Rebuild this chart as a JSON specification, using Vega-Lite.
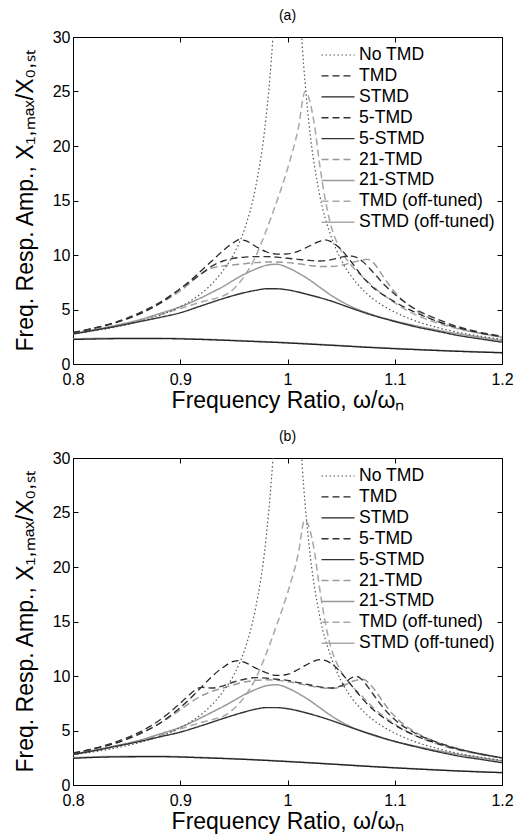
{
  "$schema": "https://vega.github.io/schema/vega-lite/v6.json",
  "padding": {"left": 13, "top": 8, "right": 2, "bottom": 2},
  "spacing": 16,
  "config": {
    "font": "Liberation Sans",
    "view": {"stroke": "#000", "strokeWidth": 1},
    "axis": {"grid": false, "domain": false, "labelFont": "Liberation Sans", "labelFontSize": 16, "labelColor": "#000", "titleFont": "Liberation Sans", "titleFontSize": 23, "titleFontWeight": "normal", "titleColor": "#000", "tickColor": "#000", "tickSize": -5, "labelFlush": false},
    "axisX": {"labelPadding": 12, "titlePadding": 2},
    "axisY": {"labelPadding": 8, "titlePadding": 15},
    "legend": {"orient": "top-right", "offset": 7, "padding": 0, "symbolType": "M-1.65,0H1.65", "symbolSize": 400, "labelFont": "Liberation Sans", "labelFontSize": 17.6, "labelColor": "#000", "rowPadding": 0.9, "labelOffset": 10},
    "title": {"font": "Liberation Sans", "fontSize": 14, "fontWeight": "normal", "color": "#000", "offset": 6}
  },
  "resolve": {"scale": {"color": "independent", "strokeDash": "independent", "strokeWidth": "independent"}},
  "datasets": {
    "a": [
      {"s":"STMD (off-tuned)","x":0.8,"y":2.3},{"s":"STMD (off-tuned)","x":0.84,"y":2.37},{"s":"STMD (off-tuned)","x":0.88,"y":2.37},{"s":"STMD (off-tuned)","x":0.92,"y":2.28},{"s":"STMD (off-tuned)","x":0.96,"y":2.13},{"s":"STMD (off-tuned)","x":1.0,"y":1.96},{"s":"STMD (off-tuned)","x":1.04,"y":1.75},{"s":"STMD (off-tuned)","x":1.08,"y":1.53},{"s":"STMD (off-tuned)","x":1.12,"y":1.34},{"s":"STMD (off-tuned)","x":1.16,"y":1.18},{"s":"STMD (off-tuned)","x":1.2,"y":1.05},
      {"s":"TMD (off-tuned)","x":0.8,"y":2.75},{"s":"TMD (off-tuned)","x":0.82,"y":3.1},{"s":"TMD (off-tuned)","x":0.84,"y":3.5},{"s":"TMD (off-tuned)","x":0.86,"y":3.95},{"s":"TMD (off-tuned)","x":0.88,"y":4.5},{"s":"TMD (off-tuned)","x":0.9,"y":5.1},{"s":"TMD (off-tuned)","x":0.91,"y":5.4},{"s":"TMD (off-tuned)","x":0.92,"y":5.7},{"s":"TMD (off-tuned)","x":0.93,"y":5.95},{"s":"TMD (off-tuned)","x":0.94,"y":6.25},{"s":"TMD (off-tuned)","x":0.95,"y":6.9},{"s":"TMD (off-tuned)","x":0.96,"y":8.1},{"s":"TMD (off-tuned)","x":0.97,"y":9.8},{"s":"TMD (off-tuned)","x":0.98,"y":12.2},{"s":"TMD (off-tuned)","x":0.99,"y":14.9},{"s":"TMD (off-tuned)","x":1.0,"y":17.9},{"s":"TMD (off-tuned)","x":1.01,"y":21.6},{"s":"TMD (off-tuned)","x":1.0165,"y":25.0},{"s":"TMD (off-tuned)","x":1.025,"y":22.0},{"s":"TMD (off-tuned)","x":1.03,"y":18.3},{"s":"TMD (off-tuned)","x":1.035,"y":15.2},{"s":"TMD (off-tuned)","x":1.04,"y":12.9},{"s":"TMD (off-tuned)","x":1.05,"y":10.4},{"s":"TMD (off-tuned)","x":1.06,"y":9.0},{"s":"TMD (off-tuned)","x":1.07,"y":8.0},{"s":"TMD (off-tuned)","x":1.08,"y":7.1},{"s":"TMD (off-tuned)","x":1.09,"y":6.3},{"s":"TMD (off-tuned)","x":1.1,"y":5.6},{"s":"TMD (off-tuned)","x":1.12,"y":4.5},{"s":"TMD (off-tuned)","x":1.14,"y":3.75},{"s":"TMD (off-tuned)","x":1.16,"y":3.2},{"s":"TMD (off-tuned)","x":1.18,"y":2.8},{"s":"TMD (off-tuned)","x":1.2,"y":2.45},
      {"s":"21-STMD","x":0.8,"y":2.8},{"s":"21-STMD","x":0.82,"y":3.15},{"s":"21-STMD","x":0.84,"y":3.55},{"s":"21-STMD","x":0.86,"y":4.0},{"s":"21-STMD","x":0.88,"y":4.6},{"s":"21-STMD","x":0.9,"y":5.25},{"s":"21-STMD","x":0.92,"y":6.1},{"s":"21-STMD","x":0.93,"y":6.6},{"s":"21-STMD","x":0.94,"y":7.1},{"s":"21-STMD","x":0.95,"y":7.7},{"s":"21-STMD","x":0.96,"y":8.25},{"s":"21-STMD","x":0.97,"y":8.7},{"s":"21-STMD","x":0.98,"y":9.05},{"s":"21-STMD","x":0.99,"y":9.15},{"s":"21-STMD","x":1.0,"y":8.85},{"s":"21-STMD","x":1.01,"y":8.35},{"s":"21-STMD","x":1.02,"y":7.75},{"s":"21-STMD","x":1.03,"y":7.05},{"s":"21-STMD","x":1.04,"y":6.35},{"s":"21-STMD","x":1.05,"y":5.75},{"s":"21-STMD","x":1.06,"y":5.25},{"s":"21-STMD","x":1.08,"y":4.5},{"s":"21-STMD","x":1.1,"y":3.95},{"s":"21-STMD","x":1.12,"y":3.5},{"s":"21-STMD","x":1.14,"y":3.1},{"s":"21-STMD","x":1.16,"y":2.75},{"s":"21-STMD","x":1.18,"y":2.45},{"s":"21-STMD","x":1.2,"y":2.15},
      {"s":"21-TMD","x":0.8,"y":2.8},{"s":"21-TMD","x":0.82,"y":3.25},{"s":"21-TMD","x":0.84,"y":3.8},{"s":"21-TMD","x":0.86,"y":4.5},{"s":"21-TMD","x":0.88,"y":5.5},{"s":"21-TMD","x":0.9,"y":6.7},{"s":"21-TMD","x":0.91,"y":7.5},{"s":"21-TMD","x":0.92,"y":8.3},{"s":"21-TMD","x":0.93,"y":8.8},{"s":"21-TMD","x":0.94,"y":9.0},{"s":"21-TMD","x":0.95,"y":9.1},{"s":"21-TMD","x":0.96,"y":9.2},{"s":"21-TMD","x":0.97,"y":9.3},{"s":"21-TMD","x":0.98,"y":9.35},{"s":"21-TMD","x":0.99,"y":9.35},{"s":"21-TMD","x":1.0,"y":9.3},{"s":"21-TMD","x":1.01,"y":9.2},{"s":"21-TMD","x":1.02,"y":9.05},{"s":"21-TMD","x":1.03,"y":8.95},{"s":"21-TMD","x":1.04,"y":8.95},{"s":"21-TMD","x":1.05,"y":9.05},{"s":"21-TMD","x":1.06,"y":9.3},{"s":"21-TMD","x":1.07,"y":9.55},{"s":"21-TMD","x":1.075,"y":9.6},{"s":"21-TMD","x":1.08,"y":9.3},{"s":"21-TMD","x":1.09,"y":7.9},{"s":"21-TMD","x":1.1,"y":6.6},{"s":"21-TMD","x":1.12,"y":4.9},{"s":"21-TMD","x":1.14,"y":3.9},{"s":"21-TMD","x":1.16,"y":3.25},{"s":"21-TMD","x":1.18,"y":2.8},{"s":"21-TMD","x":1.2,"y":2.45},
      {"s":"No TMD","x":0.8,"y":2.78},{"s":"No TMD","x":0.82,"y":3.05},{"s":"No TMD","x":0.84,"y":3.4},{"s":"No TMD","x":0.86,"y":3.84},{"s":"No TMD","x":0.88,"y":4.43},{"s":"No TMD","x":0.9,"y":5.26},{"s":"No TMD","x":0.91,"y":5.81},{"s":"No TMD","x":0.92,"y":6.51},{"s":"No TMD","x":0.93,"y":7.4},{"s":"No TMD","x":0.94,"y":8.59},{"s":"No TMD","x":0.95,"y":10.1},{"s":"No TMD","x":0.96,"y":12.4},{"s":"No TMD","x":0.97,"y":16.1},{"s":"No TMD","x":0.98,"y":22.6},{"s":"No TMD","x":0.985,"y":28.0},{"s":"No TMD","x":0.99,"y":35.6},{"s":"No TMD","x":1.0,"y":50},{"s":"No TMD","x":1.01,"y":35.1},{"s":"No TMD","x":1.015,"y":27.5},{"s":"No TMD","x":1.02,"y":22.1},{"s":"No TMD","x":1.03,"y":15.5},{"s":"No TMD","x":1.04,"y":11.9},{"s":"No TMD","x":1.05,"y":9.56},{"s":"No TMD","x":1.06,"y":7.98},{"s":"No TMD","x":1.07,"y":6.83},{"s":"No TMD","x":1.08,"y":5.96},{"s":"No TMD","x":1.09,"y":5.3},{"s":"No TMD","x":1.1,"y":4.76},{"s":"No TMD","x":1.12,"y":3.93},{"s":"No TMD","x":1.14,"y":3.34},{"s":"No TMD","x":1.16,"y":2.89},{"s":"No TMD","x":1.18,"y":2.55},{"s":"No TMD","x":1.2,"y":2.27},
      {"s":"STMD","x":0.8,"y":2.25},{"s":"STMD","x":0.84,"y":2.32},{"s":"STMD","x":0.88,"y":2.33},{"s":"STMD","x":0.92,"y":2.25},{"s":"STMD","x":0.96,"y":2.1},{"s":"STMD","x":1.0,"y":1.93},{"s":"STMD","x":1.04,"y":1.72},{"s":"STMD","x":1.08,"y":1.5},{"s":"STMD","x":1.12,"y":1.32},{"s":"STMD","x":1.16,"y":1.16},{"s":"STMD","x":1.2,"y":1.03},
      {"s":"5-STMD","x":0.8,"y":2.75},{"s":"5-STMD","x":0.82,"y":3.1},{"s":"5-STMD","x":0.84,"y":3.45},{"s":"5-STMD","x":0.86,"y":3.85},{"s":"5-STMD","x":0.88,"y":4.25},{"s":"5-STMD","x":0.9,"y":4.7},{"s":"5-STMD","x":0.92,"y":5.35},{"s":"5-STMD","x":0.94,"y":6.0},{"s":"5-STMD","x":0.96,"y":6.55},{"s":"5-STMD","x":0.97,"y":6.75},{"s":"5-STMD","x":0.98,"y":6.9},{"s":"5-STMD","x":0.99,"y":6.9},{"s":"5-STMD","x":1.0,"y":6.8},{"s":"5-STMD","x":1.02,"y":6.35},{"s":"5-STMD","x":1.04,"y":5.8},{"s":"5-STMD","x":1.06,"y":5.1},{"s":"5-STMD","x":1.08,"y":4.45},{"s":"5-STMD","x":1.1,"y":3.9},{"s":"5-STMD","x":1.12,"y":3.4},{"s":"5-STMD","x":1.14,"y":3.0},{"s":"5-STMD","x":1.16,"y":2.6},{"s":"5-STMD","x":1.18,"y":2.3},{"s":"5-STMD","x":1.2,"y":2.0},
      {"s":"TMD","x":0.8,"y":2.9},{"s":"TMD","x":0.82,"y":3.3},{"s":"TMD","x":0.84,"y":3.8},{"s":"TMD","x":0.86,"y":4.5},{"s":"TMD","x":0.88,"y":5.5},{"s":"TMD","x":0.9,"y":6.9},{"s":"TMD","x":0.91,"y":7.7},{"s":"TMD","x":0.92,"y":8.6},{"s":"TMD","x":0.93,"y":9.5},{"s":"TMD","x":0.94,"y":10.4},{"s":"TMD","x":0.95,"y":11.15},{"s":"TMD","x":0.955,"y":11.4},{"s":"TMD","x":0.96,"y":11.35},{"s":"TMD","x":0.97,"y":10.8},{"s":"TMD","x":0.98,"y":10.3},{"s":"TMD","x":0.99,"y":10.08},{"s":"TMD","x":1.0,"y":10.1},{"s":"TMD","x":1.01,"y":10.35},{"s":"TMD","x":1.02,"y":10.8},{"s":"TMD","x":1.03,"y":11.25},{"s":"TMD","x":1.035,"y":11.38},{"s":"TMD","x":1.04,"y":11.25},{"s":"TMD","x":1.05,"y":10.5},{"s":"TMD","x":1.06,"y":9.3},{"s":"TMD","x":1.07,"y":8.0},{"s":"TMD","x":1.08,"y":7.0},{"s":"TMD","x":1.09,"y":6.3},{"s":"TMD","x":1.1,"y":5.7},{"s":"TMD","x":1.12,"y":4.7},{"s":"TMD","x":1.14,"y":3.9},{"s":"TMD","x":1.16,"y":3.3},{"s":"TMD","x":1.18,"y":2.85},{"s":"TMD","x":1.2,"y":2.5},
      {"s":"5-TMD","x":0.8,"y":2.85},{"s":"5-TMD","x":0.82,"y":3.3},{"s":"5-TMD","x":0.84,"y":3.85},{"s":"5-TMD","x":0.86,"y":4.6},{"s":"5-TMD","x":0.88,"y":5.6},{"s":"5-TMD","x":0.9,"y":6.9},{"s":"5-TMD","x":0.91,"y":7.6},{"s":"5-TMD","x":0.92,"y":8.3},{"s":"5-TMD","x":0.93,"y":9.0},{"s":"5-TMD","x":0.94,"y":9.45},{"s":"5-TMD","x":0.95,"y":9.7},{"s":"5-TMD","x":0.96,"y":9.8},{"s":"5-TMD","x":0.97,"y":9.85},{"s":"5-TMD","x":0.98,"y":9.85},{"s":"5-TMD","x":0.99,"y":9.8},{"s":"5-TMD","x":1.0,"y":9.7},{"s":"5-TMD","x":1.01,"y":9.6},{"s":"5-TMD","x":1.02,"y":9.5},{"s":"5-TMD","x":1.03,"y":9.45},{"s":"5-TMD","x":1.04,"y":9.55},{"s":"5-TMD","x":1.05,"y":9.8},{"s":"5-TMD","x":1.06,"y":9.9},{"s":"5-TMD","x":1.07,"y":9.4},{"s":"5-TMD","x":1.08,"y":8.4},{"s":"5-TMD","x":1.09,"y":7.3},{"s":"5-TMD","x":1.1,"y":6.4},{"s":"5-TMD","x":1.12,"y":5.0},{"s":"5-TMD","x":1.14,"y":4.1},{"s":"5-TMD","x":1.16,"y":3.4},{"s":"5-TMD","x":1.18,"y":2.9},{"s":"5-TMD","x":1.2,"y":2.55}
    ],
    "b": [
      {"s":"STMD (off-tuned)","x":0.8,"y":2.5},{"s":"STMD (off-tuned)","x":0.84,"y":2.62},{"s":"STMD (off-tuned)","x":0.88,"y":2.63},{"s":"STMD (off-tuned)","x":0.92,"y":2.53},{"s":"STMD (off-tuned)","x":0.96,"y":2.37},{"s":"STMD (off-tuned)","x":1.0,"y":2.17},{"s":"STMD (off-tuned)","x":1.04,"y":1.94},{"s":"STMD (off-tuned)","x":1.08,"y":1.7},{"s":"STMD (off-tuned)","x":1.12,"y":1.49},{"s":"STMD (off-tuned)","x":1.16,"y":1.3},{"s":"STMD (off-tuned)","x":1.2,"y":1.15},
      {"s":"TMD (off-tuned)","x":0.8,"y":2.8},{"s":"TMD (off-tuned)","x":0.82,"y":3.15},{"s":"TMD (off-tuned)","x":0.84,"y":3.55},{"s":"TMD (off-tuned)","x":0.86,"y":4.0},{"s":"TMD (off-tuned)","x":0.88,"y":4.55},{"s":"TMD (off-tuned)","x":0.9,"y":5.15},{"s":"TMD (off-tuned)","x":0.91,"y":5.45},{"s":"TMD (off-tuned)","x":0.92,"y":5.75},{"s":"TMD (off-tuned)","x":0.93,"y":6.0},{"s":"TMD (off-tuned)","x":0.94,"y":6.3},{"s":"TMD (off-tuned)","x":0.95,"y":7.0},{"s":"TMD (off-tuned)","x":0.96,"y":8.1},{"s":"TMD (off-tuned)","x":0.97,"y":9.7},{"s":"TMD (off-tuned)","x":0.98,"y":12.0},{"s":"TMD (off-tuned)","x":0.99,"y":14.7},{"s":"TMD (off-tuned)","x":1.0,"y":17.6},{"s":"TMD (off-tuned)","x":1.01,"y":21.2},{"s":"TMD (off-tuned)","x":1.016,"y":24.3},{"s":"TMD (off-tuned)","x":1.025,"y":21.5},{"s":"TMD (off-tuned)","x":1.03,"y":18.0},{"s":"TMD (off-tuned)","x":1.035,"y":15.0},{"s":"TMD (off-tuned)","x":1.04,"y":12.8},{"s":"TMD (off-tuned)","x":1.05,"y":10.4},{"s":"TMD (off-tuned)","x":1.06,"y":9.1},{"s":"TMD (off-tuned)","x":1.07,"y":8.1},{"s":"TMD (off-tuned)","x":1.08,"y":7.1},{"s":"TMD (off-tuned)","x":1.09,"y":6.3},{"s":"TMD (off-tuned)","x":1.1,"y":5.6},{"s":"TMD (off-tuned)","x":1.12,"y":4.5},{"s":"TMD (off-tuned)","x":1.14,"y":3.75},{"s":"TMD (off-tuned)","x":1.16,"y":3.2},{"s":"TMD (off-tuned)","x":1.18,"y":2.8},{"s":"TMD (off-tuned)","x":1.2,"y":2.45},
      {"s":"21-STMD","x":0.8,"y":2.85},{"s":"21-STMD","x":0.82,"y":3.2},{"s":"21-STMD","x":0.84,"y":3.6},{"s":"21-STMD","x":0.86,"y":4.05},{"s":"21-STMD","x":0.88,"y":4.65},{"s":"21-STMD","x":0.9,"y":5.3},{"s":"21-STMD","x":0.92,"y":6.2},{"s":"21-STMD","x":0.93,"y":6.7},{"s":"21-STMD","x":0.94,"y":7.2},{"s":"21-STMD","x":0.95,"y":7.75},{"s":"21-STMD","x":0.96,"y":8.3},{"s":"21-STMD","x":0.97,"y":8.75},{"s":"21-STMD","x":0.98,"y":9.1},{"s":"21-STMD","x":0.99,"y":9.2},{"s":"21-STMD","x":1.0,"y":8.9},{"s":"21-STMD","x":1.01,"y":8.4},{"s":"21-STMD","x":1.02,"y":7.8},{"s":"21-STMD","x":1.03,"y":7.1},{"s":"21-STMD","x":1.04,"y":6.4},{"s":"21-STMD","x":1.05,"y":5.8},{"s":"21-STMD","x":1.06,"y":5.3},{"s":"21-STMD","x":1.08,"y":4.55},{"s":"21-STMD","x":1.1,"y":4.0},{"s":"21-STMD","x":1.12,"y":3.55},{"s":"21-STMD","x":1.14,"y":3.15},{"s":"21-STMD","x":1.16,"y":2.8},{"s":"21-STMD","x":1.18,"y":2.5},{"s":"21-STMD","x":1.2,"y":2.2},
      {"s":"21-TMD","x":0.8,"y":2.85},{"s":"21-TMD","x":0.82,"y":3.3},{"s":"21-TMD","x":0.84,"y":3.85},{"s":"21-TMD","x":0.86,"y":4.6},{"s":"21-TMD","x":0.88,"y":5.6},{"s":"21-TMD","x":0.9,"y":6.9},{"s":"21-TMD","x":0.91,"y":7.6},{"s":"21-TMD","x":0.92,"y":8.2},{"s":"21-TMD","x":0.93,"y":8.6},{"s":"21-TMD","x":0.94,"y":8.9},{"s":"21-TMD","x":0.95,"y":9.2},{"s":"21-TMD","x":0.96,"y":9.45},{"s":"21-TMD","x":0.97,"y":9.6},{"s":"21-TMD","x":0.98,"y":9.65},{"s":"21-TMD","x":0.99,"y":9.6},{"s":"21-TMD","x":1.0,"y":9.5},{"s":"21-TMD","x":1.01,"y":9.3},{"s":"21-TMD","x":1.02,"y":9.1},{"s":"21-TMD","x":1.03,"y":8.95},{"s":"21-TMD","x":1.04,"y":8.85},{"s":"21-TMD","x":1.05,"y":9.0},{"s":"21-TMD","x":1.06,"y":9.5},{"s":"21-TMD","x":1.07,"y":9.7},{"s":"21-TMD","x":1.08,"y":8.9},{"s":"21-TMD","x":1.09,"y":7.5},{"s":"21-TMD","x":1.1,"y":6.3},{"s":"21-TMD","x":1.12,"y":4.8},{"s":"21-TMD","x":1.14,"y":3.9},{"s":"21-TMD","x":1.16,"y":3.3},{"s":"21-TMD","x":1.18,"y":2.85},{"s":"21-TMD","x":1.2,"y":2.45},
      {"s":"No TMD","x":0.8,"y":2.78},{"s":"No TMD","x":0.82,"y":3.05},{"s":"No TMD","x":0.84,"y":3.4},{"s":"No TMD","x":0.86,"y":3.84},{"s":"No TMD","x":0.88,"y":4.43},{"s":"No TMD","x":0.9,"y":5.26},{"s":"No TMD","x":0.91,"y":5.81},{"s":"No TMD","x":0.92,"y":6.51},{"s":"No TMD","x":0.93,"y":7.4},{"s":"No TMD","x":0.94,"y":8.59},{"s":"No TMD","x":0.95,"y":10.1},{"s":"No TMD","x":0.96,"y":12.4},{"s":"No TMD","x":0.97,"y":16.1},{"s":"No TMD","x":0.98,"y":22.6},{"s":"No TMD","x":0.985,"y":28.0},{"s":"No TMD","x":0.99,"y":35.6},{"s":"No TMD","x":1.0,"y":50},{"s":"No TMD","x":1.01,"y":35.1},{"s":"No TMD","x":1.015,"y":27.5},{"s":"No TMD","x":1.02,"y":22.1},{"s":"No TMD","x":1.03,"y":15.5},{"s":"No TMD","x":1.04,"y":11.9},{"s":"No TMD","x":1.05,"y":9.56},{"s":"No TMD","x":1.06,"y":7.98},{"s":"No TMD","x":1.07,"y":6.83},{"s":"No TMD","x":1.08,"y":5.96},{"s":"No TMD","x":1.09,"y":5.3},{"s":"No TMD","x":1.1,"y":4.76},{"s":"No TMD","x":1.12,"y":3.93},{"s":"No TMD","x":1.14,"y":3.34},{"s":"No TMD","x":1.16,"y":2.89},{"s":"No TMD","x":1.18,"y":2.55},{"s":"No TMD","x":1.2,"y":2.27},
      {"s":"STMD","x":0.8,"y":2.45},{"s":"STMD","x":0.84,"y":2.58},{"s":"STMD","x":0.88,"y":2.6},{"s":"STMD","x":0.92,"y":2.5},{"s":"STMD","x":0.96,"y":2.35},{"s":"STMD","x":1.0,"y":2.15},{"s":"STMD","x":1.04,"y":1.92},{"s":"STMD","x":1.08,"y":1.68},{"s":"STMD","x":1.12,"y":1.47},{"s":"STMD","x":1.16,"y":1.28},{"s":"STMD","x":1.2,"y":1.13},
      {"s":"5-STMD","x":0.8,"y":2.8},{"s":"5-STMD","x":0.82,"y":3.15},{"s":"5-STMD","x":0.84,"y":3.55},{"s":"5-STMD","x":0.86,"y":3.95},{"s":"5-STMD","x":0.88,"y":4.4},{"s":"5-STMD","x":0.9,"y":4.85},{"s":"5-STMD","x":0.92,"y":5.45},{"s":"5-STMD","x":0.94,"y":6.1},{"s":"5-STMD","x":0.96,"y":6.7},{"s":"5-STMD","x":0.97,"y":6.95},{"s":"5-STMD","x":0.98,"y":7.1},{"s":"5-STMD","x":0.99,"y":7.1},{"s":"5-STMD","x":1.0,"y":7.0},{"s":"5-STMD","x":1.02,"y":6.55},{"s":"5-STMD","x":1.04,"y":5.95},{"s":"5-STMD","x":1.06,"y":5.25},{"s":"5-STMD","x":1.08,"y":4.6},{"s":"5-STMD","x":1.1,"y":4.0},{"s":"5-STMD","x":1.12,"y":3.5},{"s":"5-STMD","x":1.14,"y":3.05},{"s":"5-STMD","x":1.16,"y":2.65},{"s":"5-STMD","x":1.18,"y":2.35},{"s":"5-STMD","x":1.2,"y":2.05},
      {"s":"TMD","x":0.8,"y":2.95},{"s":"TMD","x":0.82,"y":3.35},{"s":"TMD","x":0.84,"y":3.85},{"s":"TMD","x":0.86,"y":4.6},{"s":"TMD","x":0.88,"y":5.6},{"s":"TMD","x":0.9,"y":7.1},{"s":"TMD","x":0.91,"y":8.0},{"s":"TMD","x":0.92,"y":9.0},{"s":"TMD","x":0.93,"y":10.0},{"s":"TMD","x":0.94,"y":10.8},{"s":"TMD","x":0.95,"y":11.35},{"s":"TMD","x":0.955,"y":11.4},{"s":"TMD","x":0.96,"y":11.25},{"s":"TMD","x":0.97,"y":10.75},{"s":"TMD","x":0.98,"y":10.3},{"s":"TMD","x":0.99,"y":10.05},{"s":"TMD","x":1.0,"y":10.15},{"s":"TMD","x":1.01,"y":10.6},{"s":"TMD","x":1.02,"y":11.15},{"s":"TMD","x":1.03,"y":11.5},{"s":"TMD","x":1.04,"y":11.2},{"s":"TMD","x":1.05,"y":10.3},{"s":"TMD","x":1.06,"y":9.1},{"s":"TMD","x":1.07,"y":7.9},{"s":"TMD","x":1.08,"y":6.9},{"s":"TMD","x":1.09,"y":6.15},{"s":"TMD","x":1.1,"y":5.5},{"s":"TMD","x":1.12,"y":4.5},{"s":"TMD","x":1.14,"y":3.8},{"s":"TMD","x":1.16,"y":3.25},{"s":"TMD","x":1.18,"y":2.85},{"s":"TMD","x":1.2,"y":2.5},
      {"s":"5-TMD","x":0.8,"y":2.9},{"s":"5-TMD","x":0.82,"y":3.35},{"s":"5-TMD","x":0.84,"y":3.95},{"s":"5-TMD","x":0.86,"y":4.75},{"s":"5-TMD","x":0.88,"y":5.9},{"s":"5-TMD","x":0.9,"y":7.5},{"s":"5-TMD","x":0.91,"y":8.4},{"s":"5-TMD","x":0.915,"y":8.8},{"s":"5-TMD","x":0.92,"y":8.95},{"s":"5-TMD","x":0.93,"y":8.9},{"s":"5-TMD","x":0.94,"y":9.1},{"s":"5-TMD","x":0.95,"y":9.45},{"s":"5-TMD","x":0.96,"y":9.7},{"s":"5-TMD","x":0.97,"y":9.85},{"s":"5-TMD","x":0.98,"y":9.8},{"s":"5-TMD","x":0.99,"y":9.7},{"s":"5-TMD","x":1.0,"y":9.6},{"s":"5-TMD","x":1.01,"y":9.4},{"s":"5-TMD","x":1.02,"y":9.2},{"s":"5-TMD","x":1.03,"y":9.0},{"s":"5-TMD","x":1.04,"y":8.9},{"s":"5-TMD","x":1.05,"y":9.1},{"s":"5-TMD","x":1.06,"y":9.85},{"s":"5-TMD","x":1.065,"y":9.95},{"s":"5-TMD","x":1.07,"y":9.6},{"s":"5-TMD","x":1.08,"y":8.3},{"s":"5-TMD","x":1.09,"y":7.0},{"s":"5-TMD","x":1.1,"y":6.0},{"s":"5-TMD","x":1.12,"y":4.7},{"s":"5-TMD","x":1.14,"y":3.9},{"s":"5-TMD","x":1.16,"y":3.3},{"s":"5-TMD","x":1.18,"y":2.85},{"s":"5-TMD","x":1.2,"y":2.5}
    ]
  },
  "vconcat": [
    {
      "title": {"text": "(a)"},
      "width": 429,
      "height": 327,
      "data": {"name": "a"},
      "resolve": {"axis": {"x": "independent", "y": "independent"}},
      "layer": [
        {
          "mark": {"type": "line", "clip": true, "interpolate": "monotone"},
          "encoding": {
            "x": {"field": "x", "type": "quantitative", "scale": {"domain": [0.8, 1.2], "nice": false, "zero": false}, "axis": {"values": [0.8, 0.9, 1, 1.1, 1.2], "format": "~g", "title": "Frequency Ratio, ω/ωₙ"}},
            "y": {"field": "y", "type": "quantitative", "scale": {"domain": [0, 30], "nice": false}, "axis": {"values": [0, 5, 10, 15, 20, 25, 30], "title": "Freq. Resp. Amp., X₁,ₘₐₓ/X₀,ₛₜ"}},
            "color": {"field": "s", "type": "nominal", "scale": {"domain": ["No TMD", "TMD", "STMD", "5-TMD", "5-STMD", "21-TMD", "21-STMD", "TMD (off-tuned)", "STMD (off-tuned)"], "range": ["#555555", "#222222", "#222222", "#333333", "#333333", "#999999", "#999999", "#aaaaaa", "#aaaaaa"]}, "legend": {"title": null}},
            "strokeDash": {"field": "s", "type": "nominal", "scale": {"domain": ["No TMD", "TMD", "STMD", "5-TMD", "5-STMD", "21-TMD", "21-STMD", "TMD (off-tuned)", "STMD (off-tuned)"], "range": [[1.5, 2.5], [7, 4], [1, 0], [7, 4], [1, 0], [7, 4], [1, 0], [7, 4], [1, 0]]}, "legend": {"title": null}},
            "strokeWidth": {"field": "s", "type": "nominal", "scale": {"domain": ["No TMD", "TMD", "STMD", "5-TMD", "5-STMD", "21-TMD", "21-STMD", "TMD (off-tuned)", "STMD (off-tuned)"], "range": [1.2, 1.6, 1.8, 2.4, 2.4, 1.3, 1.2, 1.3, 1.2]}, "legend": {"title": null}}
          }
        },
        {
          "mark": {"type": "point", "opacity": 0, "clip": true},
          "encoding": {
            "x": {"field": "x", "type": "quantitative", "axis": {"orient": "top", "values": [0.8, 0.9, 1, 1.1, 1.2], "labels": false, "title": null}},
            "y": {"field": "y", "type": "quantitative", "axis": {"orient": "right", "values": [0, 5, 10, 15, 20, 25, 30], "labels": false, "title": null}}
          }
        }
      ]
    },
    {
      "title": {"text": "(b)"},
      "width": 429,
      "height": 327,
      "data": {"name": "b"},
      "resolve": {"axis": {"x": "independent", "y": "independent"}},
      "layer": [
        {
          "mark": {"type": "line", "clip": true, "interpolate": "monotone"},
          "encoding": {
            "x": {"field": "x", "type": "quantitative", "scale": {"domain": [0.8, 1.2], "nice": false, "zero": false}, "axis": {"values": [0.8, 0.9, 1, 1.1, 1.2], "format": "~g", "title": "Frequency Ratio, ω/ωₙ"}},
            "y": {"field": "y", "type": "quantitative", "scale": {"domain": [0, 30], "nice": false}, "axis": {"values": [0, 5, 10, 15, 20, 25, 30], "title": "Freq. Resp. Amp., X₁,ₘₐₓ/X₀,ₛₜ"}},
            "color": {"field": "s", "type": "nominal", "scale": {"domain": ["No TMD", "TMD", "STMD", "5-TMD", "5-STMD", "21-TMD", "21-STMD", "TMD (off-tuned)", "STMD (off-tuned)"], "range": ["#555555", "#222222", "#222222", "#333333", "#333333", "#999999", "#999999", "#aaaaaa", "#aaaaaa"]}, "legend": {"title": null}},
            "strokeDash": {"field": "s", "type": "nominal", "scale": {"domain": ["No TMD", "TMD", "STMD", "5-TMD", "5-STMD", "21-TMD", "21-STMD", "TMD (off-tuned)", "STMD (off-tuned)"], "range": [[1.5, 2.5], [7, 4], [1, 0], [7, 4], [1, 0], [7, 4], [1, 0], [7, 4], [1, 0]]}, "legend": {"title": null}},
            "strokeWidth": {"field": "s", "type": "nominal", "scale": {"domain": ["No TMD", "TMD", "STMD", "5-TMD", "5-STMD", "21-TMD", "21-STMD", "TMD (off-tuned)", "STMD (off-tuned)"], "range": [1.2, 1.6, 1.8, 2.4, 2.4, 1.3, 1.2, 1.3, 1.2]}, "legend": {"title": null}}
          }
        },
        {
          "mark": {"type": "point", "opacity": 0, "clip": true},
          "encoding": {
            "x": {"field": "x", "type": "quantitative", "axis": {"orient": "top", "values": [0.8, 0.9, 1, 1.1, 1.2], "labels": false, "title": null}},
            "y": {"field": "y", "type": "quantitative", "axis": {"orient": "right", "values": [0, 5, 10, 15, 20, 25, 30], "labels": false, "title": null}}
          }
        }
      ]
    }
  ]
}
